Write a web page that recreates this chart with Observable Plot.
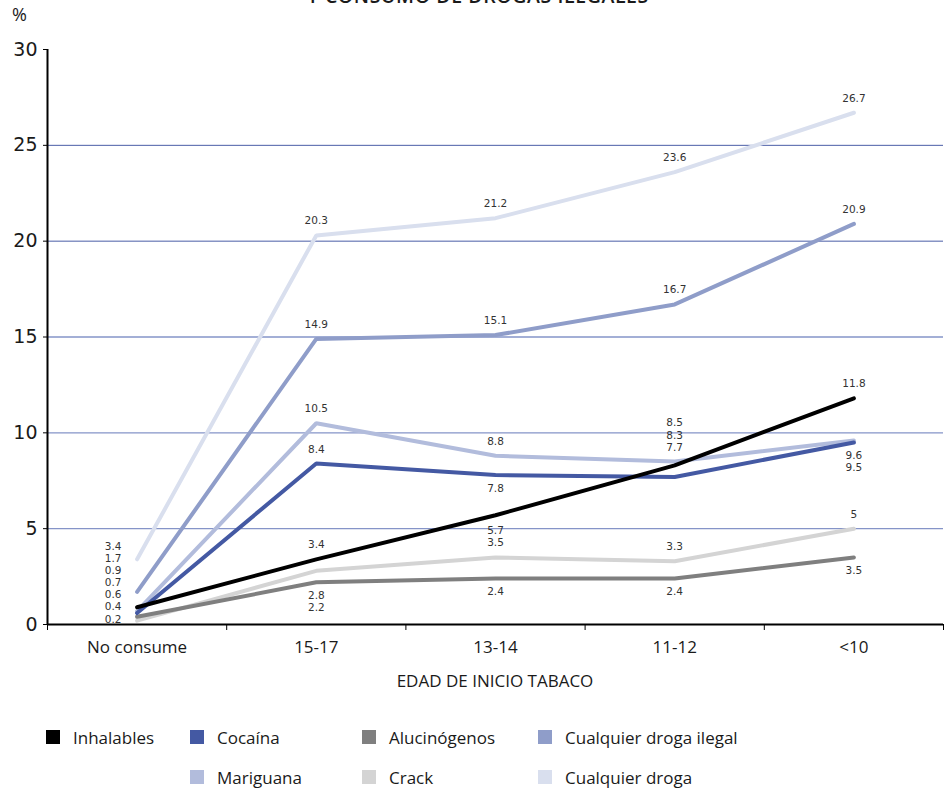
<!DOCTYPE html>
<html>
<head>
<meta charset="utf-8">
<script src="https://cdn.jsdelivr.net/npm/d3@7"></script>
<script src="https://cdn.jsdelivr.net/npm/@observablehq/plot@0.6"></script>
<style>
  body { margin: 0; background: #fff; }
  #wrap { position: relative; width: 944px; height: 793px; overflow: hidden; background: #fff; font-family: "Open Sans", sans-serif; color: #1a1a1a; }
  #title { position: absolute; left: 0; width: 956px; text-align: center; top: -15px; font-weight: 600; font-size: 19.5px; line-height: 22px; letter-spacing: 0.6px; }
  #pct { position: absolute; left: 12px; top: 2px; font-size: 18px; }
  #chart { position: absolute; left: 0; top: 0; }
  #xlabel { position: absolute; left: 47px; width: 896px; text-align: center; top: 669px; font-size: 17px; }
  .lg { position: absolute; font-size: 17px; display: flex; align-items: center; white-space: nowrap; }
  .sw { width: 14px; height: 14px; margin-right: 13px; }
</style>
</head>
<body>
<div id="wrap">
  <div id="title">Y CONSUMO DE DROGAS ILEGALES</div>
  <div id="pct">%</div>
  <div id="chart"></div>
  <div id="xlabel">EDAD DE INICIO TABACO</div>
  <div id="legend"></div>
</div>
<script>
const categories = ["No consume", "15-17", "13-14", "11-12", "<10"];
const seriesNames = ["Inhalables", "Cocaína", "Alucinógenos", "Cualquier droga ilegal", "Mariguana", "Crack", "Cualquier droga"];
const seriesColors = ["#000000", "#4459a3", "#7f7f7f", "#8f9dc9", "#b2bcdc", "#d4d4d4", "#d9dfee"];
const inhalables = [0.9, 3.4, 5.7, 8.3, 11.8];
const cocaina = [0.6, 8.4, 7.8, 7.7, 9.5];
const alucinogenos = [0.4, 2.2, 2.4, 2.4, 3.5];
const cualquierIlegal = [1.7, 14.9, 15.1, 16.7, 20.9];
const mariguana = [0.7, 10.5, 8.8, 8.5, 9.6];
const crack = [0.2, 2.8, 3.5, 3.3, 5];
const cualquierDroga = [3.4, 20.3, 21.2, 23.6, 26.7];
const yTicks = [0, 5, 10, 15, 20, 25, 30];

const seriesValues = [inhalables, cocaina, alucinogenos, cualquierIlegal, mariguana, crack, cualquierDroga];

// long table
const rows = [];
seriesNames.forEach((s, k) => {
  seriesValues[k].forEach((v, i) => rows.push({series: s, i, value: v}));
});
// draw order: reverse legend order so Inhalables ends on top
const drawOrder = seriesNames.slice().reverse();
rows.sort((a, b) => drawOrder.indexOf(a.series) - drawOrder.indexOf(b.series));

const val = (s, i) => seriesValues[seriesNames.indexOf(s)][i];
const fmt = v => String(v);

// label groups: which series values are stacked together, where
const [INH, COC, ALU, CIL, MAR, CRK, CDR] = seriesNames;
const groups = [
  {i: 1, names: [CDR], anchor: CDR, pos: "above"},
  {i: 1, names: [CIL], anchor: CIL, pos: "above"},
  {i: 1, names: [MAR], anchor: MAR, pos: "above"},
  {i: 1, names: [COC], anchor: COC, pos: "above"},
  {i: 1, names: [INH], anchor: INH, pos: "above"},
  {i: 1, names: [CRK, ALU], anchor: ALU, pos: "below"},
  {i: 2, names: [CDR], anchor: CDR, pos: "above"},
  {i: 2, names: [CIL], anchor: CIL, pos: "above"},
  {i: 2, names: [MAR], anchor: MAR, pos: "above"},
  {i: 2, names: [COC], anchor: COC, pos: "below"},
  {i: 2, names: [INH, CRK], anchor: CRK, pos: "above"},
  {i: 2, names: [ALU], anchor: ALU, pos: "below"},
  {i: 3, names: [CDR], anchor: CDR, pos: "above"},
  {i: 3, names: [CIL], anchor: CIL, pos: "above"},
  {i: 3, names: [MAR, INH, COC], anchor: MAR, pos: "above"},
  {i: 3, names: [CRK], anchor: CRK, pos: "above"},
  {i: 3, names: [ALU], anchor: ALU, pos: "below"},
  {i: 4, names: [CDR], anchor: CDR, pos: "above"},
  {i: 4, names: [CIL], anchor: CIL, pos: "above"},
  {i: 4, names: [INH], anchor: INH, pos: "above"},
  {i: 4, names: [MAR, COC], anchor: COC, pos: "below"},
  {i: 4, names: [CRK], anchor: CRK, pos: "above"},
  {i: 4, names: [ALU], anchor: ALU, pos: "below"}
];
const labelRows = groups.map(g => ({
  i: g.i,
  y: val(g.anchor, g.i),
  pos: g.pos,
  text: g.names.map(n => fmt(val(n, g.i))).join("\n")
}));
// first category: all values stacked at the left, bottom on the axis
const firstStack = seriesNames.map(s => val(s, 0)).sort((a, b) => b - a).map(fmt).join("\n");

const boundaries = d3.range(-0.5, categories.length, 1);
const numFont = "DejaVu Sans, Verdana, sans-serif";

const chart = Plot.plot({
  width: 944,
  height: 700,
  marginLeft: 47,
  marginRight: 1,
  marginTop: 49,
  marginBottom: 76,
  style: {fontFamily: "Open Sans, sans-serif", color: "#1a1a1a", background: "transparent"},
  x: {type: "linear", domain: [-0.5, categories.length - 0.5]},
  y: {domain: [0, 30]},
  color: {domain: seriesNames, range: seriesColors},
  marks: [
    Plot.ruleY([5, 10, 15], {stroke: "#8594c8", strokeWidth: 1.3}),
    Plot.ruleY([20, 25], {stroke: "#4a5da6", strokeWidth: 1}),
    Plot.axisY({ticks: yTicks, tickSize: 4, tickPadding: 6, fontSize: 19, fontFamily: numFont, tickFormat: d => d, label: null, stroke: "#000"}),
    Plot.axisX({ticks: boundaries, tickSize: 6, tickFormat: () => "", label: null, stroke: "#000"}),
    Plot.axisX({ticks: d3.range(categories.length), tickSize: 0, tickPadding: 16, fontSize: 17, tickFormat: i => categories[i], label: null}),
    Plot.line(rows, {x: "i", y: "value", z: "series", stroke: "series", strokeWidth: 4, strokeLinejoin: "miter"}),
    Plot.ruleX([-0.5], {stroke: "#000", strokeWidth: 2}),
    Plot.ruleY([0], {stroke: "#000", strokeWidth: 2}),
    Plot.text(labelRows.filter(d => d.pos === "above"), {x: "i", y: "y", text: "text", lineAnchor: "bottom", dy: -11, fontSize: 10.5, fontFamily: numFont, lineHeight: 1.15, fill: "#333"}),
    Plot.text(labelRows.filter(d => d.pos === "below"), {x: "i", y: "y", text: "text", lineAnchor: "top", dy: 8, fontSize: 10.5, fontFamily: numFont, lineHeight: 1.15, fill: "#333"}),
    Plot.text([firstStack], {x: 0, y: 0, text: d => d, lineAnchor: "bottom", dx: -24, dy: -2, fontSize: 10.5, fontFamily: numFont, lineHeight: 1.15, fill: "#333"})
  ]
});
document.getElementById("chart").appendChild(chart);

// legend
const legendPos = [
  [46, 737], [190, 737], [362, 737], [538, 737],
  [190, 777], [362, 777], [538, 777]
];
const legend = document.getElementById("legend");
seriesNames.forEach((s, k) => {
  const el = document.createElement("div");
  el.className = "lg";
  el.style.left = legendPos[k][0] + "px";
  el.style.top = (legendPos[k][1] - 11) + "px";
  el.style.height = "22px";
  el.innerHTML = `<div class="sw" style="background:${seriesColors[k]}"></div><span>${s}</span>`;
  legend.appendChild(el);
});
</script>
</body>
</html>
